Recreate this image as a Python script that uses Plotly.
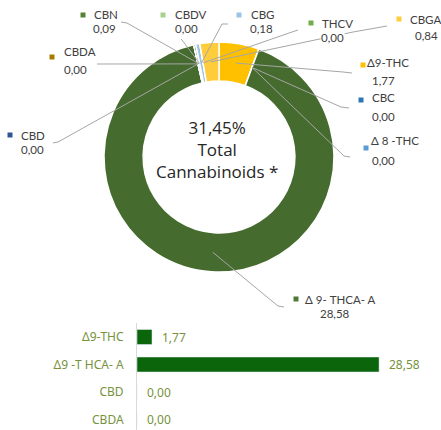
import math
import plotly.graph_objects as go

W, H = 441, 430

# ---------------- data ----------------
slice_names = ["Δ9-THC", "CBC", "Δ 8 -THC", "Δ 9- THCA- A", "CBD", "CBDA",
               "CBN", "CBDV", "CBG", "THCV", "CBGA"]
slice_values = [1.77, 0.00, 0.00, 28.58, 0.00, 0.00, 0.09, 0.00, 0.18, 0.00, 0.84]
center_lines = ["31,45%", "Total", "Cannabinoids *"]

bar_categories = ["Δ9-THC", "Δ9 -T HCA- A", "CBD", "CBDA"]
bar_values = [1.77, 28.58, 0.00, 0.00]

# ---------------- styles ----------------
slice_colors = {
    "Δ9-THC": "#FFC000", "CBC": "#2E75B6", "Δ 8 -THC": "#5B9BD5",
    "Δ 9- THCA- A": "#456B2E", "CBD": "#2F5597", "CBDA": "#A67C00",
    "CBN": "#548235", "CBDV": "#A9D18E", "CBG": "#9DC3E6",
    "THCV": "#70AD47", "CBGA": "#FFCD3C",
}
marker_colors = dict(slice_colors)
marker_colors["Δ 9- THCA- A"] = "#4E7A36"

PIE_BOX = (104, 42, 334, 272)   # px: x0, y0, x1, y1
HOLE = 0.66

# label layout (px): marker(x,y), name(left,y), value(left,y), line start(x,y), knee(x,y)
label_layout = {
    "CBN":          ((83, 15), (93, 15), (92, 28), (121, 22), (127, 23)),
    "CBDV":         ((163, 15), (174, 15), (174, 28), (181, 39), (182, 40)),
    "CBDA":         ((52, 57), (63, 52), (63, 69), (97, 64), (104, 64)),
    "CBG":          ((239, 15), (250, 15), (249, 28), (228, 24), (222, 24)),
    "THCV":         ((311, 23), (321, 23), (320, 37), (298, 30), (292, 32)),
    "CBGA":         ((399, 19), (409, 20), (414, 35), (387, 26), (353, 32)),
    "Δ9-THC":       ((363, 65), (366, 63), (371, 81), (352, 73), (343, 72)),
    "CBC":          ((361, 100), (371, 98), (371, 116), (349, 108), (341, 107)),
    "Δ 8 -THC":     ((366, 148), (370, 141), (371, 160), (350, 157), (344, 156)),
    "Δ 9- THCA- A": ((296, 299), (304, 299), (319, 313), (284, 307), (278, 306)),
    "CBD":          ((10, 135), (20, 135), (20, 150), (53, 143), (58, 142)),
}


def fmt(v):
    return f"{v:.2f}".replace(".", ",")


def px(x):
    return x / W


def py(y):
    return 1 - y / H


fig = go.Figure()

# ---------------- doughnut ----------------
fig.add_trace(go.Pie(
    labels=slice_names,
    values=slice_values,
    sort=False,
    direction="clockwise",
    rotation=0,
    hole=HOLE,
    textinfo="none",
    hoverinfo="label+value",
    showlegend=False,
    marker=dict(colors=[slice_colors[n] for n in slice_names],
                line=dict(color="white", width=1.5)),
    domain=dict(x=[px(PIE_BOX[0]), px(PIE_BOX[2])],
                y=[py(PIE_BOX[3]), py(PIE_BOX[1])]),
))

# ---------------- bars ----------------
fig.add_trace(go.Bar(
    x=bar_values,
    y=bar_categories,
    orientation="h",
    width=0.545,
    marker=dict(color="#0B650B"),
    showlegend=False,
    hoverinfo="x+y",
    xaxis="x",
    yaxis="y",
))

annotations = []
shapes = []

# center text
annotations.append(dict(
    x=px(217), y=py(150), xref="paper", yref="paper",
    text="<br>".join(center_lines), showarrow=False,
    font=dict(family="Open Sans", size=17, color="#262626"),
    align="center", xanchor="center", yanchor="middle",
))

# geometry of ring from the pie domain
cx = (PIE_BOX[0] + PIE_BOX[2]) / 2
cy = (PIE_BOX[1] + PIE_BOX[3]) / 2
r_out = min(PIE_BOX[2] - PIE_BOX[0], PIE_BOX[3] - PIE_BOX[1]) / 2
r_mid = r_out * (1 + HOLE) / 2
total = sum(slice_values)

cum = 0.0
for name, val in zip(slice_names, slice_values):
    mid = (cum + val / 2) / total * 2 * math.pi
    cum += val
    ex = cx + r_mid * math.sin(mid)
    ey = cy - r_mid * math.cos(mid)
    (mx, my), (nx, ny), (vx, vy), (sx, sy), (kx, ky) = label_layout[name]
    shapes.append(dict(
        type="path", xref="paper", yref="paper",
        path=f"M {px(sx)},{py(sy)} L {px(kx)},{py(ky)} L {px(ex)},{py(ey)}",
        line=dict(color="#A6A6A6", width=1), layer="above",
    ))
    shapes.append(dict(
        type="rect", xref="paper", yref="paper",
        xsizemode="pixel", ysizemode="pixel",
        xanchor=px(mx), yanchor=py(my),
        x0=-2.5, x1=2.5, y0=-2.5, y1=2.5,
        fillcolor=marker_colors[name], line=dict(width=0), layer="above",
    ))
    for txt, tx, ty in ((name, nx, ny), (fmt(val), vx, vy)):
        annotations.append(dict(
            x=px(tx), y=py(ty), xref="paper", yref="paper",
            text=txt, showarrow=False, xanchor="left", yanchor="middle",
            font=dict(family="Lato", size=11.5, color="#404040"),
            bgcolor="white", borderpad=0,
        ))

# bar value labels
for cat, val in zip(bar_categories, bar_values):
    annotations.append(dict(
        x=val, y=cat, xref="x", yref="y", text=fmt(val), showarrow=False,
        xanchor="left", yanchor="middle", xshift=8,
        font=dict(family="Noto Sans", size=12, color="#76923C"),
    ))

fig.update_layout(
    width=W, height=H, autosize=False,
    margin=dict(l=0, r=0, t=0, b=0),
    paper_bgcolor="white", plot_bgcolor="white",
    xaxis=dict(domain=[px(137), px(137 + 30 * 8.47)], range=[0, 30],
               visible=False, fixedrange=True),
    yaxis=dict(domain=[0, py(323)], categoryorder="array",
               categoryarray=list(reversed(bar_categories)),
               range=[-0.382, 3.509], showline=True, linecolor="#D9D9D9",
               linewidth=1, ticks="", showgrid=False, zeroline=False,
               ticklabelstandoff=10,
               tickfont=dict(family="Noto Sans", size=12, color="#76923C"),
               fixedrange=True),
    annotations=annotations,
    shapes=shapes,
)

fig.write_html("out.html", config={"displayModeBar": False},
               post_script="document.body.style.margin='0';")
